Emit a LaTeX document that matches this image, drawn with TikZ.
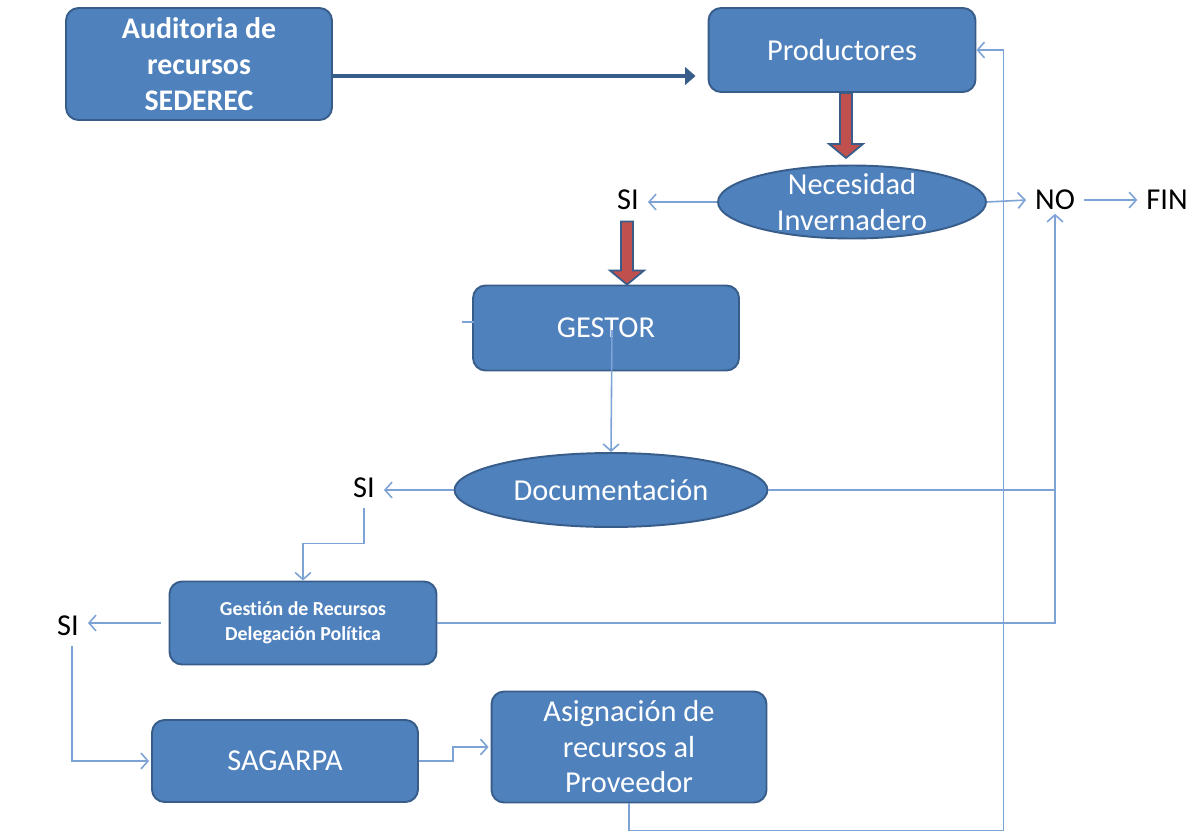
\documentclass[tikz,border=0pt]{standalone}
\usepackage{fontspec}
\setmainfont{Carlito}[Ligatures=NoCommon]
\usetikzlibrary{arrows.meta, calc, shapes.geometric, positioning}

\definecolor{boxfill}{RGB}{79,129,189}
\definecolor{boxline}{RGB}{56,93,138}
\definecolor{linkblue}{RGB}{125,163,214}
\definecolor{fatred}{RGB}{192,80,77}

\begin{document}
\begin{tikzpicture}[x=0.02cm, y=-0.02cm,
    box/.style={draw=boxline, line width=1.1pt, fill=boxfill, rounded corners=0.25cm,
      text=white, align=center, inner sep=2pt, font=\fontsize{17.3}{20.2}\selectfont},
    decision/.style={ellipse, draw=boxline, line width=1.1pt, fill=boxfill, inner sep=0pt},
    inside/.style={text=white, align=center, font=\fontsize{17.3}{20.4}\selectfont},
    answer/.style={text=black, inner xsep=5pt, inner ysep=2pt, font=\fontsize{17.3}{20.4}\selectfont},
    link/.style={-{Straight Barb[length=4pt, width=9pt]}, linkblue, line width=0.9pt},
    linkline/.style={linkblue, line width=0.9pt},
    mainlink/.style={-{Triangle[length=6pt, width=10pt]}, boxline, line width=2.6pt},
    fatarrow/.style={fill=fatred, draw=boxline, line width=1pt, line join=miter}]
  \fill[white] (0,0) rectangle (1193,833);
  \useasboundingbox (0,0) rectangle (1193,833);

  % boxes
  \node[box, font=\bfseries\fontsize{17}{20.4}\selectfont, minimum width=5.32cm, minimum height=2.24cm]
    (audit) at (199,64) {Auditoria de\\ recursos\\ SEDEREC};
  \node[box, minimum width=5.34cm, minimum height=1.68cm] (prod) at (842,50) {Productores};
  \node[decision, minimum width=5.36cm, minimum height=1.46cm,
    label={[inside]center:Necesidad\\ Invernadero}] (need) at (852,202) {};
  \node[box, minimum width=5.32cm, minimum height=1.7cm] (gestor) at (606,328) {GESTOR};
  \node[decision, minimum width=6.26cm, minimum height=1.48cm,
    label={[inside]center:Documentación}] (doc) at (611,490) {};
  \node[box, font=\bfseries\fontsize{11.3}{14}\selectfont, minimum width=5.34cm, minimum height=1.66cm]
    (gest) at (303,623) {Gestión de Recursos\\ Delegación Política};
  \node[box, minimum width=5.32cm, minimum height=1.64cm] (sag) at (285,761) {SAGARPA};
  \node[box, minimum width=5.5cm, minimum height=2.22cm] (asig) at (629,747)
    {Asignación de\\ recursos al\\ Proveedor};

  % answers
  \node[answer] (si1) at (628,200) {SI};
  \node[answer] (si2) at (364,488) {SI};
  \node[answer] (si3) at (68,626) {SI};
  \node[answer] (no) at (1055,200) {NO};
  \node[answer] (fin) at (1167,200) {FIN};

  % thick arrows
  \draw[mainlink] ($(audit.east)+(0,12)$) -- ($(prod.west)+(-12,26)$);
  \coordinate (r1) at ($(prod.south)+(4,0)$);
  \coordinate (r2) at ($(gestor.north)+(21,-63)$);
  \draw[fatarrow, shift={(r1)}] (-6,0) -- (6,0) -- (6,51) -- (17,51) -- (0,65) -- (-17,51) -- (-6,51) -- cycle;
  \draw[fatarrow, shift={(r2)}] (-6,0) -- (6,0) -- (6,49) -- (17,49) -- (0,63) -- (-17,49) -- (-6,49) -- cycle;

  % thin links
  \draw[link] (need.west) -- (need.west -| si1.east);
  \draw[link] (need.east) -- (no.west);
  \draw[link] (no.east) -- (fin.west);
  \draw[linkline] ($(gestor.west)+(-10,-6)$) -- ($(gestor.west)+(2,-6)$);
  \draw[link] ($(gestor.center)+(6,2)$) -- (doc.north);
  \draw[link] (doc.west) -- (doc.west -| si2.east);
  \draw[linkline] (doc.east) -- (doc.east -| no.south);
  \draw[link] (gest.east) -| (no.south);
  \draw[link] ($(si2.south)+(0,6)$) |- ($(gest.north)+(0,-37)$) -- (gest.north);
  \draw[link] ($(gest.west)+(-8,0)$) -- (gest.west -| si3.east);
  \draw[link] ($(si3.south)+(4,6)$) |- ($(sag.west)+(-2,0)$);
  \draw[link] (sag.east) -- ++(34,0) |- ($(asig.west)+(-2,0)$);
  \draw[link] (asig.south) -- ++(0,27) -| ($(prod.east)+(27,0)$) -- (prod.east);
\end{tikzpicture}
\end{document}
